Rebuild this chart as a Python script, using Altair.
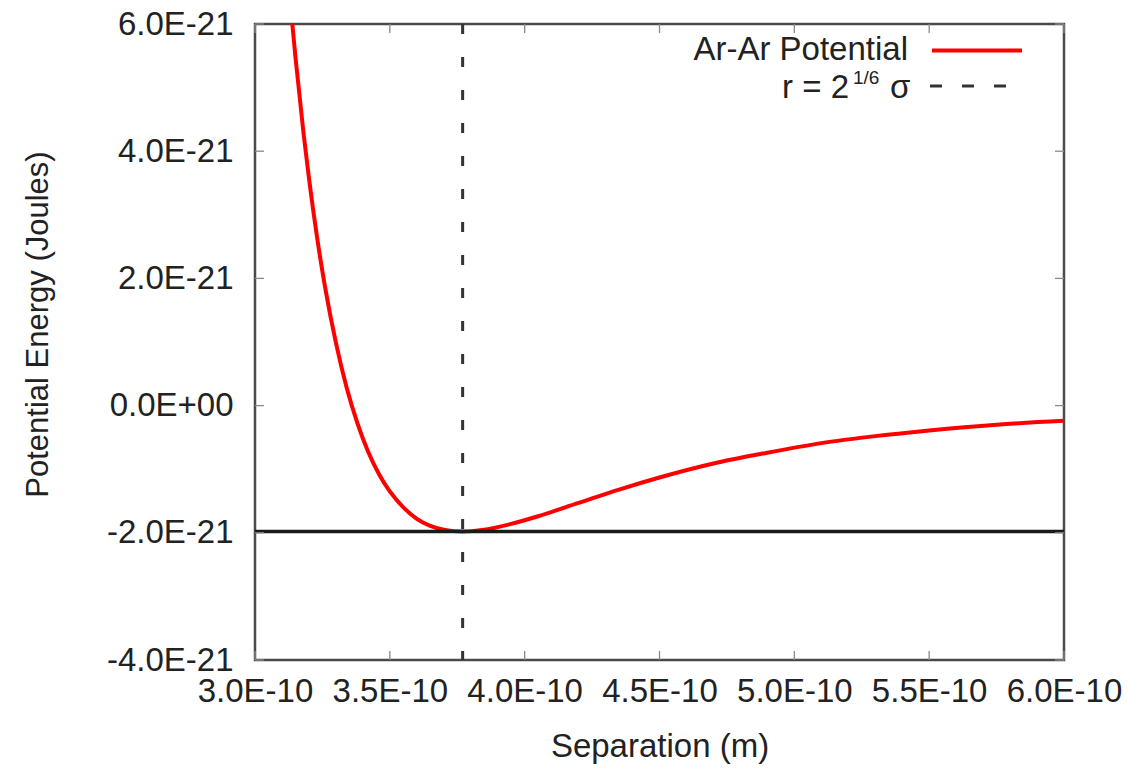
import json
import altair as alt
import pandas as pd

# Ar-Ar pair potential, read point by point (separation in m, energy in J)
sep_m = [3.13e-10, 3.15e-10, 3.18e-10, 3.20e-10, 3.23e-10, 3.26e-10, 3.30e-10,
         3.34e-10, 3.38e-10, 3.42e-10, 3.46e-10, 3.50e-10, 3.55e-10, 3.60e-10,
         3.65e-10, 3.70e-10, 3.77e-10, 3.85e-10, 3.95e-10, 4.05e-10, 4.20e-10,
         4.35e-10, 4.50e-10, 4.70e-10, 4.90e-10, 5.10e-10, 5.30e-10, 5.50e-10,
         5.75e-10, 6.00e-10]
energy_J = [6.38e-21, 5.48e-21, 4.28e-21, 3.58e-21, 2.65e-21, 1.86e-21, 0.99e-21,
            0.28e-21, -0.28e-21, -0.73e-21, -1.08e-21, -1.35e-21, -1.60e-21, -1.78e-21,
            -1.89e-21, -1.95e-21, -1.98e-21, -1.95e-21, -1.86e-21, -1.74e-21, -1.53e-21,
            -1.32e-21, -1.13e-21, -0.91e-21, -0.74e-21, -0.59e-21, -0.48e-21, -0.39e-21,
            -0.30e-21, -0.24e-21]

# reference lines: well depth and r = 2^(1/6) sigma
well_depth_J = [-1.98e-21]
r_min_m = [3.77e-10]

# axes (plotted in units of 1e-10 m and 1e-21 J)
x_ticks = [3.0, 3.5, 4.0, 4.5, 5.0, 5.5, 6.0]
x_tick_labels = ["3.0E-10", "3.5E-10", "4.0E-10", "4.5E-10", "5.0E-10", "5.5E-10", "6.0E-10"]
y_ticks = [-4, -2, 0, 2, 4, 6]
y_tick_labels = ["-4.0E-21", "-2.0E-21", "0.0E+00", "2.0E-21", "4.0E-21", "6.0E-21"]

legend_curve = ["Ar-Ar Potential"]
legend_line = ["r = 2"]
legend_sup = ["1/6"]
legend_sigma = ["σ"]

FONT = "Liberation Sans, Arial, Helvetica, sans-serif"
W, H = 809, 636
TICK = 9

xscale = alt.Scale(domain=[3.0, 6.0], nice=False, zero=False)
yscale = alt.Scale(domain=[-4, 6], nice=False, zero=False)

x_expr = f"{json.dumps(x_tick_labels)}[indexof({json.dumps(x_ticks)}, datum.value)]"
y_expr = f"{json.dumps(y_tick_labels)}[indexof({json.dumps(y_ticks)}, datum.value)]"

curve_df = pd.DataFrame({"sep": sep_m, "energy": energy_J})

curve = alt.Chart(curve_df).transform_calculate(
    r="datum.sep * 1e10", u="datum.energy * 1e21"
).mark_line(color="#ff0000", strokeWidth=4, interpolate="monotone", clip=True).encode(
    x=alt.X("r:Q", scale=xscale,
            axis=alt.Axis(values=x_ticks, labelExpr=x_expr, title="Separation (m)",
                          domain=False, ticks=False, grid=False, labelPadding=15,
                          labelOverlap=False, labelFlush=False, labelBound=False,
                          labelFontSize=33, labelFont=FONT, labelColor="#222",
                          titleFontSize=33, titleFont=FONT, titleFontWeight="normal",
                          titleColor="#222", titleY=96, titleBaseline="alphabetic")),
    y=alt.Y("u:Q", scale=yscale,
            axis=alt.Axis(values=y_ticks, labelExpr=y_expr, title="Potential Energy (Joules)",
                          domain=False, ticks=False, grid=False, labelPadding=22,
                          labelOverlap=False, labelFlush=False, labelBound=False,
                          labelFontSize=33, labelFont=FONT, labelColor="#222",
                          titleFontSize=31, titleFont=FONT, titleFontWeight="normal",
                          titleColor="#222", titleAngle=270, titleX=-208, titleY=300,
                          titleAlign="center", titleBaseline="alphabetic")),
)

hline = alt.Chart(pd.DataFrame({"energy": well_depth_J})).transform_calculate(
    u="datum.energy * 1e21"
).mark_rule(color="#1a1a1a", strokeWidth=3.5).encode(
    y=alt.Y("u:Q", scale=yscale)
)

vline = alt.Chart(pd.DataFrame({"sep": r_min_m})).transform_calculate(
    r="datum.sep * 1e10"
).mark_rule(color="#333333", strokeWidth=3, strokeDash=[10, 23]).encode(
    x=alt.X("r:Q", scale=xscale)
)

# inward tick marks on all four sides of the frame
tick_style = dict(color="#8a8a8a", strokeWidth=1.3)
xt = pd.DataFrame({"r": x_ticks})
yt = pd.DataFrame({"u": y_ticks})
ticks_bottom = alt.Chart(xt).mark_rule(**tick_style).encode(
    x=alt.X("r:Q", scale=xscale), y=alt.value(H - TICK), y2=alt.value(H))
ticks_top = alt.Chart(xt).mark_rule(**tick_style).encode(
    x=alt.X("r:Q", scale=xscale), y=alt.value(0), y2=alt.value(TICK))
ticks_left = alt.Chart(yt).mark_rule(**tick_style).encode(
    y=alt.Y("u:Q", scale=yscale), x=alt.value(0), x2=alt.value(TICK))
ticks_right = alt.Chart(yt).mark_rule(**tick_style).encode(
    y=alt.Y("u:Q", scale=yscale), x=alt.value(W - TICK), x2=alt.value(W))

# key in the top-right corner
one = pd.DataFrame({"k": [0]})
key_text1 = alt.Chart(pd.DataFrame({"t": legend_curve})).mark_text(
    font=FONT, fontSize=33, align="right", baseline="alphabetic", color="#222"
).encode(text="t:N", x=alt.value(653), y=alt.value(36))
key_line1 = alt.Chart(one).mark_rule(color="#ff0000", strokeWidth=4).encode(
    x=alt.value(677), x2=alt.value(767), y=alt.value(26.5))
key_text2 = alt.Chart(pd.DataFrame({"t": legend_line})).mark_text(
    font=FONT, fontSize=33, align="right", baseline="alphabetic", color="#222"
).encode(text="t:N", x=alt.value(594), y=alt.value(74))
key_sup = alt.Chart(pd.DataFrame({"t": legend_sup})).mark_text(
    font=FONT, fontSize=19, align="left", baseline="alphabetic", color="#222"
).encode(text="t:N", x=alt.value(598), y=alt.value(60))
key_sigma = alt.Chart(pd.DataFrame({"t": legend_sigma})).mark_text(
    font=FONT, fontSize=33, align="left", baseline="alphabetic", color="#222"
).encode(text="t:N", x=alt.value(635), y=alt.value(74))
key_line2 = alt.Chart(one).mark_rule(color="#333333", strokeWidth=3, strokeDash=[12, 20]).encode(
    x=alt.value(675), x2=alt.value(767), y=alt.value(62))

chart = alt.layer(
    curve, hline, vline, ticks_bottom, ticks_top, ticks_left, ticks_right,
    key_text1, key_line1, key_text2, key_sup, key_sigma, key_line2
).properties(
    width=W, height=H,
    padding={"left": 255, "top": 24, "right": 65, "bottom": 108},
    autosize=alt.AutoSizeParams(type="none"),
    background="white",
).configure_view(
    stroke="#4a4a4a", strokeWidth=2.5
)

chart.save("out.html", embed_options={"renderer": "svg", "actions": False})
